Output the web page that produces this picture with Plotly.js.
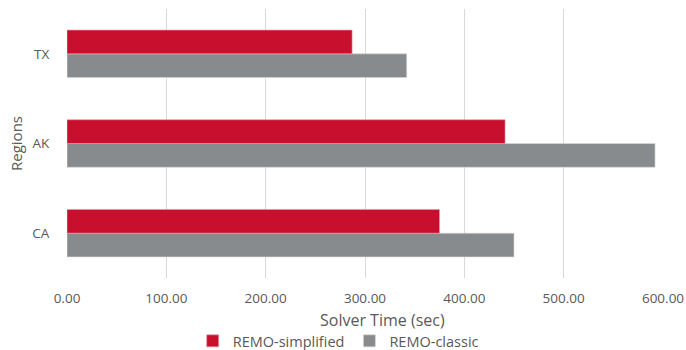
<!DOCTYPE html>
<html>
<head>
<meta charset="utf-8">
<script src="https://cdn.plot.ly/plotly-3.0.1.min.js"></script>
<style>
  html, body { margin: 0; padding: 0; background: #fff; }
  #chart { width: 686px; height: 350px; }
</style>
</head>
<body>
<div id="chart"></div>
<script>
// Solver time per region for the two REMO variants
const regions = ['CA', 'AK', 'TX'];
const remoSimplified = [375, 441, 287];
const remoClassic = [450, 592, 342];
const xTicks = [0, 100, 200, 300, 400, 500, 600];
const xTickLabels = ['0.00', '100.00', '200.00', '300.00', '400.00', '500.00', '600.00'];
const xTitle = 'Solver Time (sec)';
const yTitle = 'Regions';

const FONT = '"Open Sans", "Liberation Sans", sans-serif';
const TEXT_COLOR = '#595959';

// The classic series comes first so it sits below the simplified bar in each group
const traces = [
  {
    type: 'bar',
    orientation: 'h',
    name: 'REMO-classic',
    y: regions,
    x: remoClassic,
    marker: { color: '#888B8D', line: { color: '#d8d8d8', width: 0.6 } },
    legendrank: 2,
    hoverinfo: 'x+name'
  },
  {
    type: 'bar',
    orientation: 'h',
    name: 'REMO-simplified',
    y: regions,
    x: remoSimplified,
    marker: { color: '#C8102E', line: { color: '#e89aa6', width: 0.6 } },
    legendrank: 1,
    hoverinfo: 'x+name'
  }
];

const layout = {
  width: 686,
  height: 350,
  margin: { l: 67, r: 23, t: 9, b: 72, autoexpand: false },
  paper_bgcolor: '#ffffff',
  plot_bgcolor: '#ffffff',
  barmode: 'group',
  bargap: 0.47,
  bargroupgap: 0,
  font: { family: FONT, color: TEXT_COLOR, size: 13 },
  xaxis: {
    range: [0, 600],
    tickvals: xTicks,
    ticktext: xTickLabels,
    showgrid: true,
    gridcolor: '#d9d9d9',
    gridwidth: 1,
    zeroline: false,
    showline: false,
    ticks: 'outside',
    ticklen: 8,
    tickcolor: 'rgba(0,0,0,0)',
    tickfont: { family: FONT, size: 13.5, color: TEXT_COLOR },
    automargin: false,
    fixedrange: true
  },
  yaxis: {
    categoryorder: 'array',
    categoryarray: regions,
    showgrid: false,
    zeroline: false,
    showline: false,
    ticks: 'outside',
    ticklen: 14,
    tickcolor: 'rgba(0,0,0,0)',
    tickfont: { family: FONT, size: 13.5, color: TEXT_COLOR },
    title: { text: yTitle, font: { family: FONT, size: 15, color: TEXT_COLOR }, standoff: 6 },
    automargin: false,
    fixedrange: true
  },
  // x-axis title sits a little right of the plot centre
  annotations: [
    {
      text: xTitle,
      xref: 'paper', yref: 'paper',
      x: 0.53, y: -0.156,
      xanchor: 'center', yanchor: 'middle',
      showarrow: false,
      font: { family: FONT, size: 16, color: TEXT_COLOR }
    }
  ],
  showlegend: true,
  legend: {
    orientation: 'h',
    x: 0.455,
    xanchor: 'center',
    y: -0.234,
    yanchor: 'middle',
    font: { family: FONT, size: 14.5, color: TEXT_COLOR },
    itemwidth: 30,
    traceorder: 'normal'
  }
};

Plotly.newPlot('chart', traces, layout, { displayModeBar: false, staticPlot: true });
</script>
</body>
</html>
